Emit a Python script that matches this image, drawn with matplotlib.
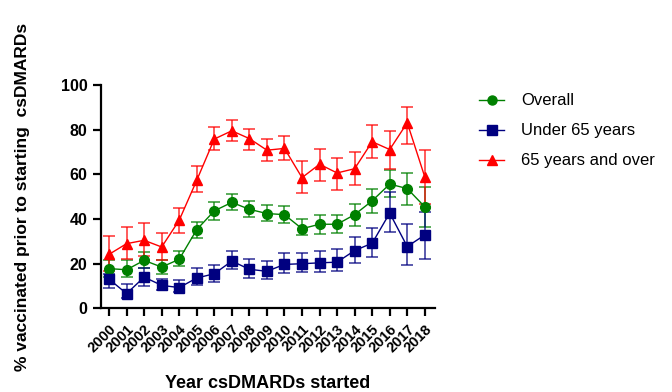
import matplotlib
matplotlib.use("Agg")
import matplotlib.pyplot as plt
from matplotlib.lines import Line2D

plt.rcParams['font.family'] = ['Liberation Sans', 'DejaVu Sans']

years = list(range(2000, 2019))

# Overall
overall = [17.7, 17.2, 21.4, 18.4, 21.9, 35.2, 43.6, 47.4, 44.3, 42.4, 41.9,
           35.6, 37.6, 37.6, 41.9, 48.1, 55.6, 53.6, 45.4]
overall_lo = [14.0, 13.9, 18.1, 15.4, 18.7, 31.6, 39.7, 44.0, 40.9, 38.9, 38.2,
              32.6, 33.4, 33.7, 36.8, 42.6, 49.6, 46.3, 36.4]
overall_hi = [21.5, 21.4, 25.1, 21.7, 25.5, 38.6, 47.7, 51.1, 48.1, 46.1, 45.8,
              39.8, 41.9, 41.9, 46.6, 53.3, 61.8, 60.6, 54.3]

# Under 65 years
under65 = [13.0, 6.5, 13.9, 10.2, 9.2, 13.5, 15.4, 21.1, 17.4, 16.5, 19.6,
           19.9, 20.3, 20.6, 25.8, 29.1, 42.6, 27.6, 32.8]
under65_lo = [9.2, 4.7, 9.7, 7.9, 7.0, 10.2, 11.6, 17.4, 13.6, 12.9, 15.7,
              16.0, 16.2, 16.5, 20.3, 23.1, 34.0, 19.4, 22.0]
under65_hi = [15.1, 11.0, 18.1, 13.2, 12.4, 17.9, 19.4, 25.4, 21.9, 21.1, 24.7,
              24.5, 25.8, 26.3, 32.1, 36.0, 52.0, 37.5, 43.0]

# 65 years and over
over65 = [24.1, 28.9, 30.4, 27.4, 39.4, 57.3, 75.8, 79.5, 76.0, 70.8, 71.6,
          58.5, 64.5, 60.6, 62.5, 74.6, 71.1, 83.1, 58.8]
over65_lo = [16.5, 22.0, 23.2, 21.4, 33.7, 52.1, 71.1, 75.0, 71.1, 65.9, 66.6,
             51.4, 56.9, 53.1, 55.1, 67.3, 62.5, 73.8, 46.5]
over65_hi = [32.3, 36.4, 38.2, 33.8, 45.0, 63.6, 81.3, 84.3, 80.5, 76.0, 77.2,
             65.9, 71.5, 67.5, 70.1, 82.0, 79.4, 90.3, 71.1]

series = [
    ("Overall", overall, overall_lo, overall_hi, "#008000", "o"),
    ("Under 65 years", under65, under65_lo, under65_hi, "#000080", "s"),
    ("65 years and over", over65, over65_lo, over65_hi, "#ff0000", "^"),
]

fig = plt.figure(figsize=(6.72, 3.92), dpi=100)
ax = fig.add_axes([0.150, 0.214, 0.497, 0.569])

handles = []
for name, vals, lo, hi, col, mk in series:
    yerr = [[v - l for v, l in zip(vals, lo)], [h - v for v, h in zip(vals, hi)]]
    eb = ax.errorbar(years, vals, yerr=yerr, color=col, marker=mk, markersize=7,
                     linewidth=1.0, elinewidth=1.2, capsize=4, capthick=1.2,
                     ecolor=col)
    for c in eb[1]:
        c.set_alpha(0.75)
    for c in eb[2]:
        c.set_alpha(0.75)
    handles.append(Line2D([], [], color=col, marker=mk, markersize=6.5,
                          linewidth=1.0, label=name))

ax.set_xlim(1999.53, 2018.57)
ax.set_ylim(0, 100)
ax.set_yticks([0, 20, 40, 60, 80, 100])
ax.set_xticks(years)
ax.set_xticklabels([str(y) for y in years], rotation=45, ha='right',
                   rotation_mode='anchor', fontweight='bold', fontsize=10.5)
for t in ax.get_yticklabels():
    t.set_fontweight('bold')
    t.set_fontsize(11.5)

for s in ['top', 'right']:
    ax.spines[s].set_visible(False)
for s in ['left', 'bottom']:
    ax.spines[s].set_linewidth(1.6)
ax.tick_params(axis='both', width=1.6, length=6, direction='out')
ax.tick_params(axis='x', pad=4)

ax.set_xlabel("Year csDMARDs started", fontweight='bold', fontsize=13, labelpad=14)
ax.set_ylabel("% vaccinated prior to starting  csDMARDs", fontweight='bold',
              fontsize=12.5, labelpad=22)

ax.legend(handles=handles, loc='upper left', bbox_to_anchor=(1.088, 1.03),
          frameon=False, fontsize=12, handlelength=1.5, labelspacing=0.9,
          handletextpad=1.0)

fig.savefig("out.png", dpi=100)
